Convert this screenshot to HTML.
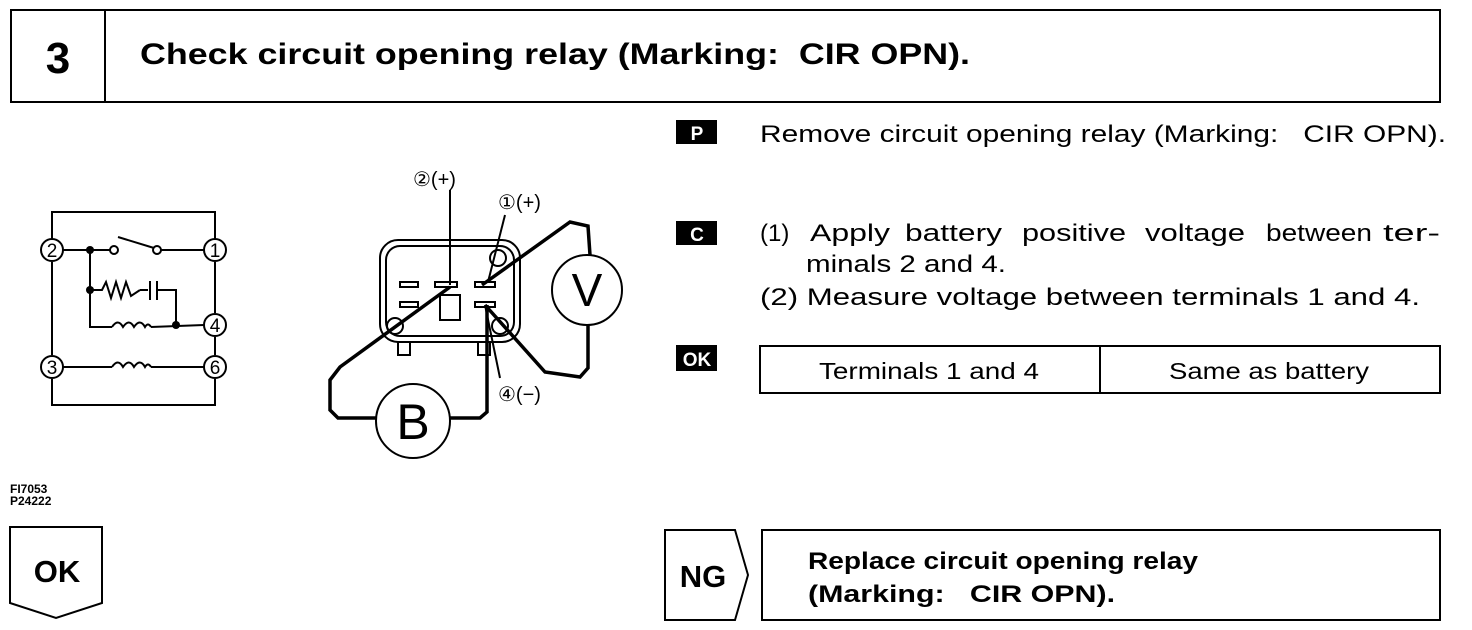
<!DOCTYPE html>
<html><head><meta charset="utf-8"><style>
body{margin:0;background:#fff;width:1472px;height:630px;overflow:hidden}
svg{display:block}
text{font-family:"Liberation Sans",sans-serif;fill:#000;white-space:pre}
</style></head><body>
<svg width="1472" height="630" viewBox="0 0 1472 630" xmlns="http://www.w3.org/2000/svg" xml:space="preserve">
<g fill="none" stroke="#000" stroke-width="2">
<rect x="11" y="10" width="1429" height="92"/>
<line x1="105" y1="10" x2="105" y2="102"/>
</g>
<text x="58" y="73" font-size="44" font-weight="bold" text-anchor="middle">3</text>
<text x="140" y="64" font-size="30" font-weight="bold" textLength="830" lengthAdjust="spacingAndGlyphs">Check circuit opening relay (Marking:  CIR OPN).</text>

<!-- left schematic -->
<g fill="none" stroke="#000" stroke-width="2">
<polyline points="52,239 52,212 215,212 215,239"/>
<line x1="52" y1="262" x2="52" y2="355"/>
<line x1="215" y1="262" x2="215" y2="313"/>
<line x1="215" y1="337" x2="215" y2="355"/>
<polyline points="52,379 52,405 215,405 215,379"/>
<circle cx="52" cy="250" r="11"/><circle cx="215" cy="250" r="11"/>
<circle cx="215" cy="325" r="11"/><circle cx="52" cy="367" r="11"/><circle cx="215" cy="367" r="11"/>
<line x1="63" y1="250" x2="110" y2="250"/>
<circle cx="114" cy="250" r="4"/><circle cx="157" cy="250" r="4"/>
<line x1="118" y1="237" x2="154" y2="248"/>
<line x1="161" y1="250" x2="204" y2="250"/>
<polyline points="90,250 90,327 112,327"/>
<polyline points="90,290 102,290 106,282 111,298 116,282 121,298 126,282 131,296 140,290"/>
<line x1="140" y1="290" x2="148" y2="290"/>
<line x1="150" y1="281" x2="150" y2="300"/><line x1="157" y1="281" x2="157" y2="300"/>
<polyline points="157,290 176,290 176,325"/>
<path d="M112,327 q6,-9 11,0 q6,-9 11,0 q6,-9 11,0 q3,-5 6,0"/>
<line x1="151" y1="327" x2="204" y2="325"/>
<line x1="63" y1="367" x2="112" y2="367"/>
<path d="M112,367 q6,-9 11,0 q6,-9 11,0 q6,-9 11,0 q3,-5 6,0"/>
<line x1="151" y1="367" x2="204" y2="367"/>
</g>
<g fill="#000"><circle cx="90" cy="250" r="4"/><circle cx="90" cy="290" r="4"/><circle cx="176" cy="325" r="4"/></g>
<g font-size="19" text-anchor="middle">
<text x="52" y="257">2</text><text x="215" y="257">1</text><text x="215" y="332">4</text><text x="52" y="374">3</text><text x="215" y="374">6</text>
</g>

<!-- connector -->
<g fill="none" stroke="#000" stroke-width="2">
<rect x="380" y="240" width="140" height="102" rx="18"/>
<rect x="386" y="246" width="128" height="90" rx="14"/>
<polyline points="398,342 398,355 410,355 410,342"/>
<polyline points="478,342 478,355 490,355 490,342"/>
<rect x="400" y="282" width="18" height="5"/><rect x="435" y="282" width="22" height="5"/><rect x="475" y="282" width="20" height="5"/>
<rect x="400" y="302" width="18" height="5"/><rect x="475" y="302" width="20" height="5"/>
<rect x="440" y="295" width="20" height="25"/>
<circle cx="498" cy="258" r="8"/><circle cx="395" cy="326" r="8"/><circle cx="500" cy="326" r="8"/>
<circle cx="587" cy="290" r="35"/>
<circle cx="413" cy="421" r="37"/>
<line x1="450" y1="190" x2="450" y2="285"/>
<line x1="505" y1="215" x2="488" y2="282"/>
<line x1="500" y1="378" x2="485" y2="305"/>
</g>
<g fill="none" stroke="#000" stroke-width="3.5">
<polyline points="482,285 570,222 588,226 590,255"/>
<polyline points="485,305 545,372 580,377 588,368 588,325"/>
<polyline points="450,287 340,367 330,380 330,410 338,418 376,418"/>
<polyline points="487,305 487,412 480,418 450,418"/>
</g>
<text x="587" y="306" font-size="46" text-anchor="middle">V</text>
<text x="413" y="439" font-size="50" text-anchor="middle">B</text>
<text x="413" y="186" font-size="20">②(+)</text>
<text x="498" y="209" font-size="20">①(+)</text>
<text x="498" y="401" font-size="20">④(−)</text>

<text x="10" y="493" font-size="12" font-weight="bold">FI7053</text>
<text x="10" y="505" font-size="12" font-weight="bold">P24222</text>
<polygon points="10,527 102,527 102,603 56,618 10,603" fill="none" stroke="#000" stroke-width="2"/>
<text x="57" y="582" font-size="31" font-weight="bold" text-anchor="middle">OK</text>

<!-- right column -->
<rect x="676" y="120" width="41" height="24" fill="#000"/>
<text x="697" y="140" font-size="19" font-weight="bold" text-anchor="middle" style="fill:#fff">P</text>
<text x="760" y="142" font-size="24" textLength="686" lengthAdjust="spacingAndGlyphs">Remove circuit opening relay (Marking:   CIR OPN).</text>
<rect x="676" y="221" width="41" height="24" fill="#000"/>
<text x="697" y="241" font-size="19" font-weight="bold" text-anchor="middle" style="fill:#fff">C</text>
<g font-size="24">
<text x="760" y="241">(1)</text>
<text x="810" y="241" textLength="80" lengthAdjust="spacingAndGlyphs">Apply</text>
<text x="905" y="241" textLength="97" lengthAdjust="spacingAndGlyphs">battery</text>
<text x="1022" y="241" textLength="104" lengthAdjust="spacingAndGlyphs">positive</text>
<text x="1145" y="241" textLength="100" lengthAdjust="spacingAndGlyphs">voltage</text>
<text x="1266" y="241" textLength="106" lengthAdjust="spacingAndGlyphs">between</text>
<text x="1383" y="241" textLength="57" lengthAdjust="spacingAndGlyphs">ter-</text>
<text x="806" y="272" textLength="200" lengthAdjust="spacingAndGlyphs">minals 2 and 4.</text>
<text x="760" y="305" textLength="660" lengthAdjust="spacingAndGlyphs">(2) Measure voltage between terminals 1 and 4.</text>
</g>
<rect x="676" y="345" width="41" height="26" fill="#000"/>
<text x="697" y="366" font-size="19" font-weight="bold" text-anchor="middle" style="fill:#fff">OK</text>
<g fill="none" stroke="#000" stroke-width="2">
<rect x="760" y="346" width="680" height="47"/>
<line x1="1100" y1="346" x2="1100" y2="393"/>
<polygon points="665,530 735,530 748,575 735,620 665,620"/>
<rect x="762" y="530" width="678" height="90"/>
</g>
<text x="929" y="379" font-size="23" text-anchor="middle" textLength="220" lengthAdjust="spacingAndGlyphs">Terminals 1 and 4</text>
<text x="1269" y="379" font-size="23" text-anchor="middle" textLength="200" lengthAdjust="spacingAndGlyphs">Same as battery</text>
<text x="703" y="587" font-size="31" font-weight="bold" text-anchor="middle">NG</text>
<text x="808" y="569" font-size="24" font-weight="bold" textLength="390" lengthAdjust="spacingAndGlyphs">Replace circuit opening relay</text>
<text x="808" y="602" font-size="24" font-weight="bold" textLength="307" lengthAdjust="spacingAndGlyphs">(Marking:   CIR OPN).</text>
</svg>
</body></html>
